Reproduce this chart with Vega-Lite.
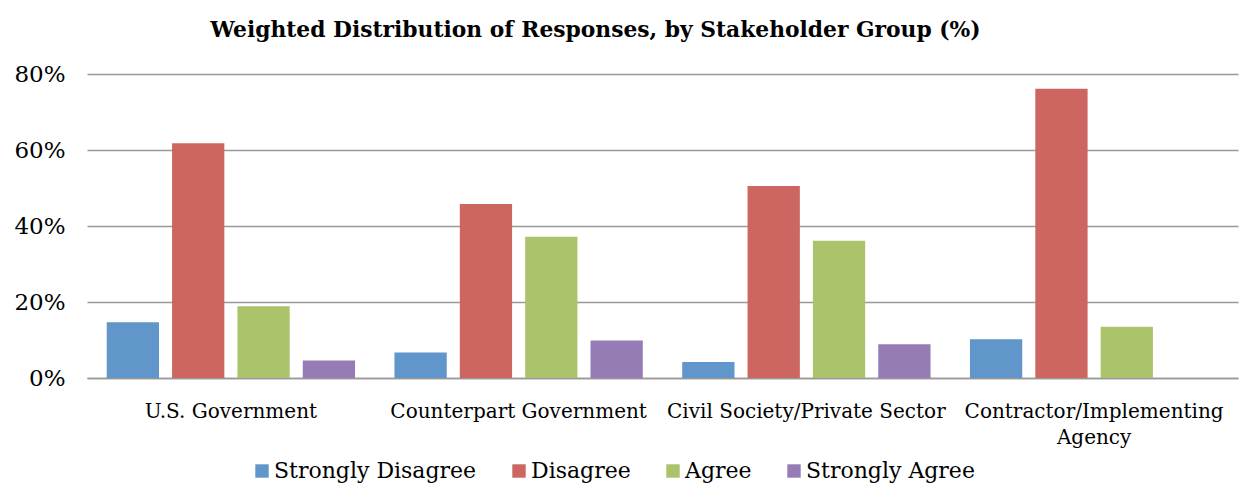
{
  "$schema": "https://vega.github.io/schema/vega-lite/v6.json",
  "width": 1151,
  "height": 304,
  "autosize": "none",
  "padding": {"left": 87, "top": 74, "right": 6, "bottom": 105},
  "background": "white",
  "title": {
    "text": "Weighted Distribution of Responses, by Stakeholder Group (%)",
    "font": "DejaVu Serif",
    "fontSize": 21.8,
    "fontWeight": "bold",
    "color": "#000000",
    "anchor": "middle",
    "dx": -67,
    "offset": 21
  },
  "data": {
    "values": [
      {"group": "U.S. Government", "response": "Strongly Disagree", "pct": 14.7},
      {"group": "U.S. Government", "response": "Disagree", "pct": 61.8},
      {"group": "U.S. Government", "response": "Agree", "pct": 18.9},
      {"group": "U.S. Government", "response": "Strongly Agree", "pct": 4.6},
      {"group": "Counterpart Government", "response": "Strongly Disagree", "pct": 6.7},
      {"group": "Counterpart Government", "response": "Disagree", "pct": 45.8},
      {"group": "Counterpart Government", "response": "Agree", "pct": 37.2},
      {"group": "Counterpart Government", "response": "Strongly Agree", "pct": 9.9},
      {"group": "Civil Society/Private Sector", "response": "Strongly Disagree", "pct": 4.2},
      {"group": "Civil Society/Private Sector", "response": "Disagree", "pct": 50.5},
      {"group": "Civil Society/Private Sector", "response": "Agree", "pct": 36.1},
      {"group": "Civil Society/Private Sector", "response": "Strongly Agree", "pct": 8.9},
      {"group": "Contractor/Implementing Agency", "response": "Strongly Disagree", "pct": 10.2},
      {"group": "Contractor/Implementing Agency", "response": "Disagree", "pct": 76.1},
      {"group": "Contractor/Implementing Agency", "response": "Agree", "pct": 13.5},
      {"group": "Contractor/Implementing Agency", "response": "Strongly Agree", "pct": 0}
    ]
  },
  "mark": {"type": "bar"},
  "encoding": {
    "x": {
      "field": "group",
      "type": "nominal",
      "sort": null,
      "scale": {"paddingInner": 0.137, "paddingOuter": 0.0685},
      "axis": {
        "title": null,
        "labelAngle": 0,
        "labelFont": "DejaVu Serif",
        "labelFontSize": 20,
        "labelColor": "#000000",
        "labelPadding": 23,
        "labelLineHeight": 26,
        "labelBaseline": "top",
        "labelLimit": 0,
        "labelOverlap": false,
        "ticks": false,
        "domain": true,
        "domainColor": "#999999",
        "domainWidth": 1.5,
        "labelExpr": "datum.label == 'Contractor/Implementing Agency' ? ['Contractor/Implementing', 'Agency'] : datum.label"
      }
    },
    "xOffset": {
      "field": "response",
      "type": "nominal",
      "sort": ["Strongly Disagree", "Disagree", "Agree", "Strongly Agree"],
      "scale": {"paddingInner": 0.2, "paddingOuter": 0}
    },
    "y": {
      "field": "pct",
      "type": "quantitative",
      "scale": {"domain": [0, 80], "nice": false},
      "axis": {
        "title": null,
        "values": [0, 20, 40, 60, 80],
        "labelExpr": "datum.value + '%'",
        "labelFont": "DejaVu Serif",
        "labelFontSize": 23,
        "labelColor": "#000000",
        "labelPadding": 22,
        "ticks": false,
        "domain": false,
        "grid": true,
        "gridColor": "#999999",
        "gridWidth": 1.5
      }
    },
    "color": {
      "field": "response",
      "type": "nominal",
      "sort": ["Strongly Disagree", "Disagree", "Agree", "Strongly Agree"],
      "scale": {
        "domain": ["Strongly Disagree", "Disagree", "Agree", "Strongly Agree"],
        "range": ["#6096C9", "#CD6660", "#ABC46B", "#967CB4"]
      },
      "legend": {
        "title": null,
        "orient": "none",
        "direction": "horizontal",
        "legendX": 164,
        "legendY": 386,
        "symbolType": "square",
        "symbolSize": 180,
        "symbolStrokeWidth": 0,
        "labelFont": "DejaVu Serif",
        "labelFontSize": 22,
        "labelColor": "#000000",
        "labelLimit": 0,
        "labelOffset": 1,
        "columnPadding": 31
      }
    }
  },
  "config": {
    "view": {"stroke": null},
    "legend": {"labelFont": "DejaVu Serif"}
  }
}
